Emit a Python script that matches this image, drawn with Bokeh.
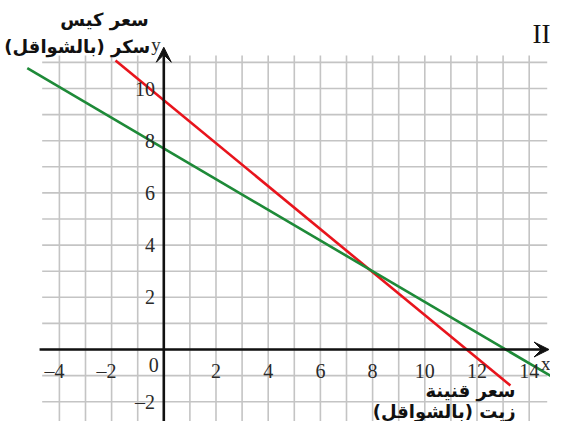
from bokeh.plotting import figure
from bokeh.models import Arrow, VeeHead, Label
from bokeh.embed import file_html
from bokeh.resources import INLINE
from bokeh.core.properties import value

# ---- data ----
grid_x = list(range(-4, 15))
grid_y = list(range(-2, 12))
x_ticks = [-4, -2, 2, 4, 6, 8, 10, 12, 14]
x_tick_labels = ["–4", "–2", "2", "4", "6", "8", "10", "12", "14"]
y_ticks = [-2, 2, 4, 6, 8, 10]
y_tick_labels = ["–2", "2", "4", "6", "8", "10"]
red_x = [-1.85, 13.28]
red_y = [11.07, -1.38]
green_x = [-5.23, 15.07]
green_y = [10.78, -1.16]
y_title = ["سعر كيس", "سكر (بالشواقل)"]
x_title = ["سعر قنينة", "زيت (بالشواقل)"]

U = 26.1
X0 = 163.3
Y0 = 349.0
W, H = 550, 421

p = figure(width=W, height=H, output_backend="svg", toolbar_location=None,
           x_range=(-X0 / U, (W - X0) / U), y_range=(-(H - Y0) / U, Y0 / U),
           x_axis_type=None, y_axis_type=None, min_border=0,
           outline_line_color=None, background_fill_color="white",
           border_fill_color="white")
p.grid.visible = False

GRID = "#c4c4c4"
p.segment(x0=grid_x, y0=[-2.8] * len(grid_x), x1=grid_x, y1=[11.26] * len(grid_x),
          line_color=GRID, line_width=1.6)
p.segment(x0=[-4.66] * len(grid_y), y0=grid_y, x1=[14.69] * len(grid_y), y1=grid_y,
          line_color=GRID, line_width=1.6)

# axes
AX = "#111111"
p.add_layout(Arrow(x_start=-4.76, y_start=0, x_end=(W - 1.5 - X0) / U, y_end=0,
                   line_color=AX, line_width=2.6,
                   end=VeeHead(size=15, fill_color=AX, line_color=AX)))
p.add_layout(Arrow(x_start=0, y_start=-2.88, x_end=0, y_end=11.58,
                   line_color=AX, line_width=2.6,
                   end=VeeHead(size=15, fill_color=AX, line_color=AX)))

# lines
p.line(red_x, red_y, line_color="#e8141c", line_width=2.6)
p.line(green_x, green_y, line_color="#1e8a38", line_width=2.6)

# tick labels
FONT = value("Liberation Serif")
TCOL = "#2a2a2a"
FS = "20px"
pos_x = [t for t in x_ticks if t > 0]
pos_lab = [l for t, l in zip(x_ticks, x_tick_labels) if t > 0]
neg_x = [t + 5.0 / U for t in x_ticks if t < 0]
neg_lab = [l for t, l in zip(x_ticks, x_tick_labels) if t < 0]
ylab = -21.0 / U
p.text(x=pos_x, y=[ylab] * len(pos_x), text=pos_lab, text_align="center",
       text_baseline="middle", text_font=FONT, text_font_size=FS, text_color=TCOL)
p.text(x=neg_x, y=[ylab] * len(neg_x), text=neg_lab, text_align="right",
       text_baseline="middle", text_font=FONT, text_font_size=FS, text_color=TCOL)
p.text(x=[-8.8 / U] * len(y_ticks), y=y_ticks, text=y_tick_labels, text_align="right",
       text_baseline="middle", text_font=FONT, text_font_size=FS, text_color=TCOL)
p.text(x=[-10.0 / U], y=[-15.0 / U], text=["0"], text_align="center",
       text_baseline="middle", text_font=FONT, text_font_size=FS, text_color=TCOL)

# axis letters
p.add_layout(Label(x=-12.6 / U, y=305.0 / U, text="y", text_align="left",
                   text_baseline="middle", text_font="Liberation Serif",
                   text_font_size="19px", text_color=TCOL))
p.add_layout(Label(x=(W - X0) / U, y=-14.0 / U, text="x", text_align="right",
                   text_baseline="middle", text_font="Liberation Serif",
                   text_font_size="19px", text_color=TCOL))

# titles (Arabic)
AFONT = "DejaVu Sans"
ACOL = "#111111"
AFS = "18px"
p.add_layout(Label(x=-15.0 / U, y=330.0 / U, text=y_title[0], text_align="right",
                   text_baseline="middle", text_font=AFONT, text_font_style="bold",
                   text_font_size=AFS, text_color=ACOL))
p.add_layout(Label(x=-13.5 / U, y=303.0 / U, text=y_title[1], text_align="right",
                   text_baseline="middle", text_font=AFONT, text_font_style="bold",
                   text_font_size=AFS, text_color=ACOL))
p.add_layout(Label(x=351.7 / U, y=-41.0 / U, text=x_title[0], text_align="right",
                   text_baseline="middle", text_font=AFONT, text_font_style="bold",
                   text_font_size=AFS, text_color=ACOL))
p.add_layout(Label(x=351.7 / U, y=-61.5 / U, text=x_title[1], text_align="right",
                   text_baseline="middle", text_font=AFONT, text_font_style="bold",
                   text_font_size=AFS, text_color=ACOL))

# clipped heading fragment at top right
p.add_layout(Label(x=(W - X0) / U, y=316.0 / U, text="II", text_align="right",
                   text_baseline="middle", text_font="Liberation Serif",
                   text_font_size="27px", text_color=ACOL))

open("out.html", "w").write(file_html(p, INLINE))
